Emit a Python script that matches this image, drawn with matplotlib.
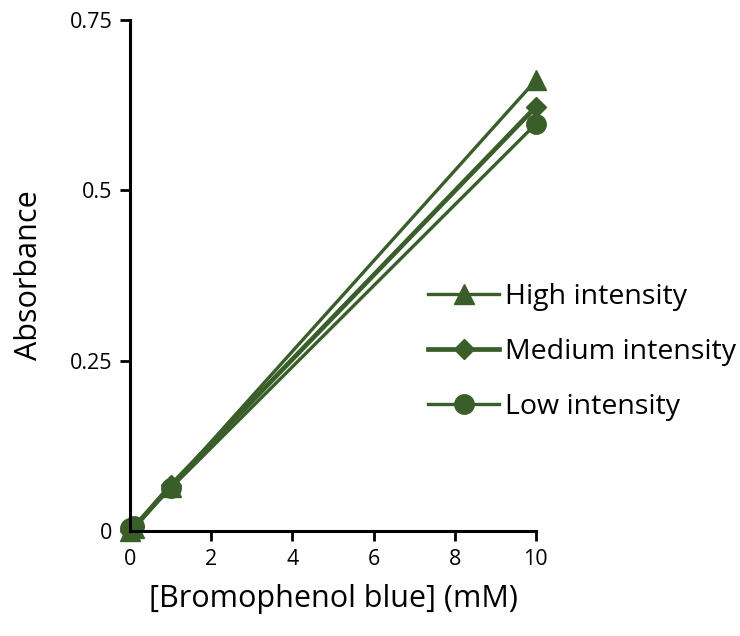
import matplotlib
matplotlib.use('Agg')
import matplotlib.pyplot as plt

plt.rcParams['font.family'] = ['Open Sans', 'DejaVu Sans']

concentration = [0, 0.1, 1, 10]
high = [0.0, 0.004, 0.065, 0.661]
medium = [0.002, 0.006, 0.067, 0.622]
low = [0.004, 0.007, 0.063, 0.597]
xticks = [0, 2, 4, 6, 8, 10]
yticks = [0, 0.25, 0.5, 0.75]
ytick_labels = ['0', '0.25', '0.5', '0.75']

green = '#3a5e2a'


def main():
    fig = plt.figure(figsize=(7.4, 6.36), dpi=100)
    ax = fig.add_axes([0.176, 0.165, 0.548, 0.804])

    ax.plot(concentration, high, color=green, lw=2.4, marker='^', ms=14,
            label='High intensity')
    ax.plot(concentration, medium, color=green, lw=3.4, marker='D', ms=10,
            label='Medium intensity')
    ax.plot(concentration, low, color=green, lw=2.4, marker='o', ms=14,
            label='Low intensity')

    ax.set_xlim(0, 10)
    ax.set_ylim(0, 0.75)
    ax.set_xticks(xticks)
    ax.set_yticks(yticks)
    ax.set_yticklabels(ytick_labels)
    ax.tick_params(labelsize=15.5, width=2, length=7, direction='out', pad=6)
    for side in ['top', 'right']:
        ax.spines[side].set_visible(False)
    for side in ['left', 'bottom']:
        ax.spines[side].set_linewidth(2.2)
    for m in ax.lines:
        m.set_clip_on(False)

    ax.set_xlabel('[Bromophenol blue] (mM)', fontsize=22, labelpad=10)
    ax.set_ylabel('Absorbance', fontsize=22, labelpad=18)

    ax.legend(loc='center left', bbox_to_anchor=(0.563, 0.4465),
              bbox_transform=fig.transFigure, frameon=False,
              fontsize=20.5, handlelength=2.5, labelspacing=0.96,
              handletextpad=0.2, borderaxespad=0, borderpad=0.4)

    fig.savefig('out.png', dpi=100)


if __name__ == '__main__':
    main()
